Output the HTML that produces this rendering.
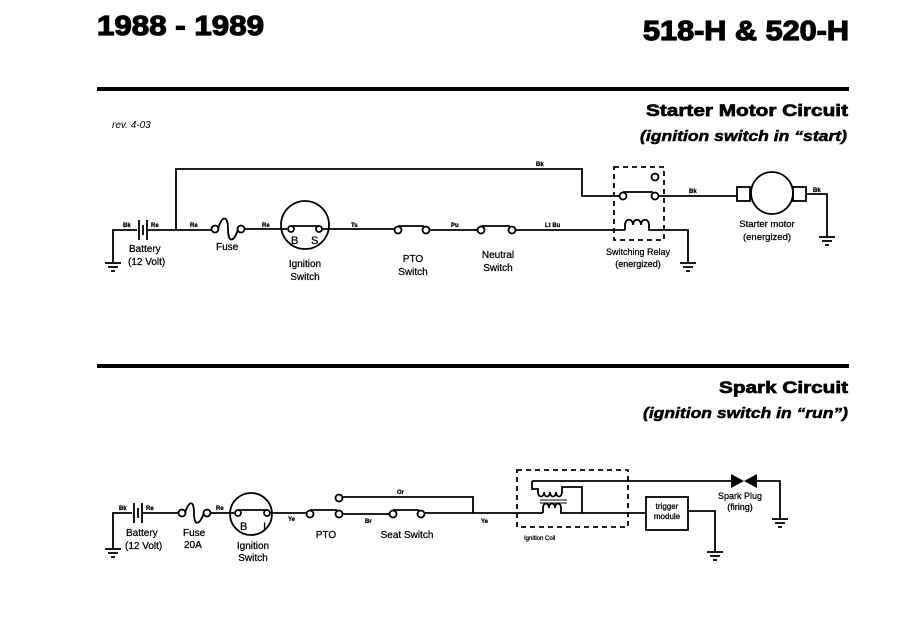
<!DOCTYPE html>
<html><head><meta charset="utf-8"><style>
html,body{margin:0;padding:0;background:#fff;}
svg{display:block;}
text{font-family:"Liberation Sans",sans-serif;fill:#000;}
.s{font-size:10px;}
.t{font-size:6px;font-weight:bold;}
</style></head><body>
<svg width="918" height="634" viewBox="0 0 918 634" xmlns="http://www.w3.org/2000/svg">
<g>
<text x="97" y="35" font-size="28" font-weight="bold" stroke="#000" stroke-width="1.2" textLength="167" lengthAdjust="spacingAndGlyphs">1988 - 1989</text>
<text x="643" y="40" font-size="28" font-weight="bold" stroke="#000" stroke-width="1.2" textLength="206" lengthAdjust="spacingAndGlyphs">518-H &amp; 520-H</text>
<rect x="97" y="87" width="752" height="4" fill="#000"/>
<text x="646" y="116" font-size="17" font-weight="bold" stroke="#000" stroke-width="0.7" textLength="202" lengthAdjust="spacingAndGlyphs">Starter Motor Circuit</text>
<text x="640" y="141" font-size="15" font-weight="bold" font-style="italic" stroke="#000" stroke-width="0.5" textLength="207" lengthAdjust="spacingAndGlyphs">(ignition switch in “start)</text>
<text x="112" y="128" font-size="10" font-style="italic" font-family="Liberation Serif">rev. 4-03</text>
<rect x="97" y="364" width="752" height="4" fill="#000"/>
<text x="719" y="393" font-size="17" font-weight="bold" stroke="#000" stroke-width="0.7" textLength="129" lengthAdjust="spacingAndGlyphs">Spark Circuit</text>
<text x="643" y="418" font-size="15" font-weight="bold" font-style="italic" stroke="#000" stroke-width="0.5" textLength="205" lengthAdjust="spacingAndGlyphs">(ignition switch in “run”)</text>
</g>

<g stroke="#000" stroke-width="1.8" fill="none">
<polyline points="113,262 113,230 137,230"/>
<line x1="139" y1="220" x2="139" y2="240"/><line x1="143" y1="225" x2="143" y2="235"/><line x1="147" y1="220" x2="147" y2="240"/>
<line x1="147" y1="230" x2="211" y2="230"/>
<polyline points="176,230 176,169 582,169 582,196 619,196"/>
<circle cx="215" cy="229" r="3.5"/><circle cx="241" cy="229" r="3.5"/>
<path d="M218,229 C222,215 228,215 228,229 C228,243 234,243 238,229"/>
<line x1="244" y1="229" x2="287" y2="229"/>
<circle cx="305" cy="225" r="24"/>
<circle cx="291" cy="229" r="3"/><circle cx="319" cy="229" r="3"/>
<line x1="291" y1="226" x2="319" y2="226"/>
<line x1="322" y1="229" x2="395" y2="229"/>
<circle cx="398" cy="230" r="3.5"/><circle cx="426" cy="230" r="3.5"/>
<line x1="398" y1="226" x2="424" y2="226"/>
<line x1="429" y1="230" x2="478" y2="230"/>
<circle cx="481" cy="230" r="3.5"/><circle cx="512" cy="230" r="3.5"/>
<line x1="481" y1="226" x2="510" y2="226"/>
<line x1="515" y1="230" x2="625" y2="230"/>
<rect x="614" y="167" width="50" height="73" stroke-dasharray="5,4"/>
<circle cx="623" cy="196" r="3.5"/><circle cx="655" cy="196" r="3.5"/><circle cx="655" cy="177" r="3.5"/>
<line x1="623" y1="192" x2="653" y2="192"/>
<line x1="659" y1="196" x2="737" y2="196"/>
<path d="M625,230 V225 C625,218 633,218 633,225 C633,218 641,218 641,225 C641,218 649,218 649,225 V230 H688 V262"/>
<rect x="737" y="187" width="13" height="14"/>
<circle cx="772" cy="193" r="21"/>
<rect x="793" y="187" width="13" height="14"/>
<polyline points="806,194 827,194 827,236"/>
<polyline points="113,548 113,513 132,513"/>
<line x1="134" y1="503" x2="134" y2="523"/><line x1="138" y1="508" x2="138" y2="518"/><line x1="142" y1="503" x2="142" y2="523"/>
<line x1="142" y1="513" x2="178" y2="513"/>
<circle cx="182" cy="513" r="3.5"/><circle cx="207" cy="513" r="3.5"/>
<path d="M185,513 C189,500 194,500 194,513 C194,526 199,526 204,513"/>
<line x1="210" y1="513" x2="234" y2="513"/>
<circle cx="251" cy="514" r="21"/>
<circle cx="238" cy="513" r="3"/><circle cx="267" cy="513" r="3"/>
<line x1="238" y1="510" x2="267" y2="510"/>
<line x1="270" y1="513" x2="307" y2="513"/>
<circle cx="310" cy="514" r="3.5"/><circle cx="339" cy="514" r="3.5"/><circle cx="339" cy="498" r="3.5"/>
<line x1="310" y1="510" x2="337" y2="510"/>
<polyline points="342,497 473,497 473,513"/>
<line x1="342" y1="514" x2="390" y2="514"/>
<circle cx="393" cy="514" r="3.5"/><circle cx="421" cy="514" r="3.5"/>
<line x1="393" y1="510" x2="419" y2="510"/>
<polyline points="424,513 543,513"/>
<rect x="517" y="470" width="111" height="57" stroke-dasharray="5,4"/>
<path d="M543,513 V508 C543,502 549,502 549,508 C549,502 555,502 555,508 C555,502 561,502 561,508 V513 H646"/>
<line x1="540" y1="500" x2="567" y2="500" stroke-width="1"/><line x1="540" y1="503" x2="567" y2="503" stroke-width="1"/>
<path d="M532,481 V489 H538 V492 C538,498 544,498 544,492 C544,498 550,498 550,492 C550,498 556,498 556,492 C556,498 562,498 562,492 V487 H582 V513"/>
<polyline points="532,481 731,481"/>
<rect x="646" y="497" width="42" height="33"/>
<polyline points="688,511 715,511 715,551"/>
<polyline points="757,481 780,481 780,518"/>
</g>
<g fill="#000">
<polygon points="731,474 731,488 744,481"/><polygon points="757,474 757,488 744,481"/>
</g>
<g stroke="#000" stroke-width="1.8">
<line x1="105" y1="263" x2="121" y2="263"/><line x1="108" y1="267" x2="118" y2="267"/><line x1="111" y1="271" x2="115" y2="271"/>
<line x1="680" y1="263" x2="696" y2="263"/><line x1="683" y1="267" x2="693" y2="267"/><line x1="686" y1="271" x2="690" y2="271"/>
<line x1="819" y1="237" x2="835" y2="237"/><line x1="822" y1="241" x2="832" y2="241"/><line x1="825" y1="245" x2="829" y2="245"/>
<line x1="105" y1="549" x2="121" y2="549"/><line x1="108" y1="553" x2="118" y2="553"/><line x1="111" y1="557" x2="115" y2="557"/>
<line x1="707" y1="552" x2="723" y2="552"/><line x1="710" y1="556" x2="720" y2="556"/><line x1="713" y1="560" x2="717" y2="560"/>
<line x1="772" y1="519" x2="788" y2="519"/><line x1="775" y1="523" x2="785" y2="523"/><line x1="778" y1="527" x2="782" y2="527"/>
</g>
<g stroke="#000" stroke-width="0.25">
<text class="t" x="123" y="227">Bk</text><text class="t" x="151" y="227">Re</text>
<text class="t" x="190" y="227">Re</text><text class="t" x="262" y="227">Re</text>
<text class="t" x="351" y="227">Ts</text><text class="t" x="451" y="227">Pu</text>
<text class="t" x="545" y="227">Lt Bu</text><text class="t" x="536" y="166">Bk</text>
<text class="t" x="689" y="193">Bk</text><text class="t" x="813" y="192">Bk</text>
<text class="s" x="129" y="252">Battery</text><text class="s" x="128" y="265">(12 Volt)</text>
<text class="s" x="216" y="250">Fuse</text>
<text x="291" y="244" font-size="11">B</text><text x="311" y="244" font-size="11">S</text>
<text class="s" x="305" y="267" text-anchor="middle">Ignition</text><text class="s" x="305" y="280" text-anchor="middle">Switch</text>
<text class="s" x="413" y="262" text-anchor="middle">PTO</text><text class="s" x="413" y="275" text-anchor="middle">Switch</text>
<text class="s" x="498" y="258" text-anchor="middle">Neutral</text><text class="s" x="498" y="271" text-anchor="middle">Switch</text>
<text x="638" y="255" font-size="9" text-anchor="middle">Switching Relay</text><text x="638" y="267" font-size="9" text-anchor="middle">(energized)</text>
<text x="767" y="227" font-size="9.5" text-anchor="middle">Starter motor</text><text x="767" y="240" font-size="9.5" text-anchor="middle">(energized)</text>
</g>
<g stroke="#000" stroke-width="0.25">
<text class="t" x="119" y="510">Bk</text><text class="t" x="146" y="510">Re</text>
<text class="t" x="216" y="510">Re</text><text class="t" x="288" y="521">Ye</text>
<text class="t" x="397" y="494">Or</text><text class="t" x="365" y="523">Br</text>
<text class="t" x="481" y="523">Ye</text>
<text class="s" x="126" y="536">Battery</text><text class="s" x="125" y="549">(12 Volt)</text>
<text class="s" x="183" y="536">Fuse</text><text class="s" x="184" y="548">20A</text>
<text x="240" y="530" font-size="11">B</text><text x="263" y="530" font-size="11">I</text>
<text class="s" x="253" y="549" text-anchor="middle">Ignition</text><text class="s" x="253" y="561" text-anchor="middle">Switch</text>
<text class="s" x="326" y="538" text-anchor="middle">PTO</text>
<text class="s" x="407" y="538" text-anchor="middle">Seat Switch</text>
<text x="524" y="540" font-size="6">Ignition Coil</text>
<text x="667" y="509" font-size="8" text-anchor="middle">trigger</text><text x="667" y="519" font-size="8" text-anchor="middle">module</text>
<text x="740" y="499" font-size="9" text-anchor="middle">Spark Plug</text><text x="740" y="510" font-size="9" text-anchor="middle">(firing)</text>
</g>
</svg>
</body></html>
